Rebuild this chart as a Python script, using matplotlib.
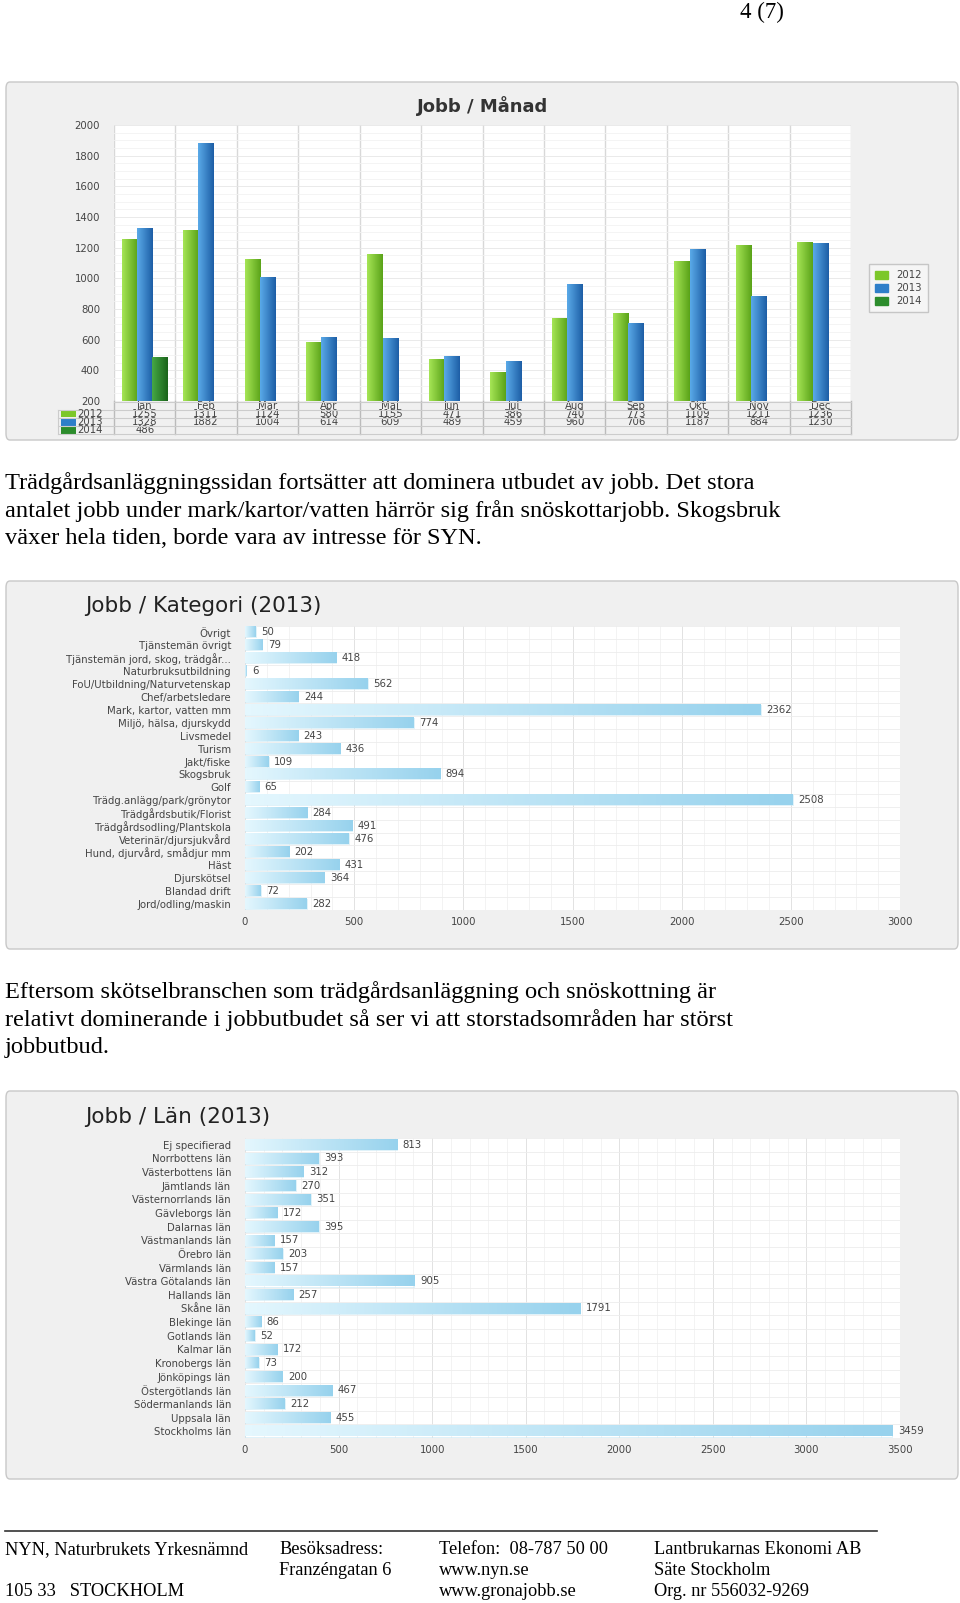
import numpy as np
import matplotlib
matplotlib.use("Agg")
import matplotlib.pyplot as plt
from matplotlib.patches import FancyBboxPatch, Rectangle, Patch
from matplotlib.colors import LinearSegmentedColormap
from matplotlib.lines import Line2D
from matplotlib import transforms

# ---- data ----
months = ["Jan", "Feb", "Mar", "Apr", "Maj", "Jun", "Jul", "Aug", "Sep", "Okt", "Nov", "Dec"]
jobs_2012 = [1255, 1311, 1124, 580, 1155, 471, 386, 740, 773, 1109, 1211, 1236]
jobs_2013 = [1328, 1882, 1004, 614, 609, 489, 459, 960, 706, 1187, 884, 1230]
jobs_2014 = [486]

kat_labels = ["Övrigt", "Tjänstemän övrigt", "Tjänstemän jord, skog, trädgår...",
              "Naturbruksutbildning", "FoU/Utbildning/Naturvetenskap", "Chef/arbetsledare",
              "Mark, kartor, vatten mm", "Miljö, hälsa, djurskydd", "Livsmedel", "Turism",
              "Jakt/fiske", "Skogsbruk", "Golf", "Trädg.anlägg/park/grönytor",
              "Trädgårdsbutik/Florist", "Trädgårdsodling/Plantskola", "Veterinär/djursjukvård",
              "Hund, djurvård, smådjur mm", "Häst", "Djurskötsel", "Blandad drift",
              "Jord/odling/maskin"]
kat_values = [50, 79, 418, 6, 562, 244, 2362, 774, 243, 436, 109, 894, 65, 2508,
              284, 491, 476, 202, 431, 364, 72, 282]

lan_labels = ["Ej specifierad", "Norrbottens län", "Västerbottens län", "Jämtlands län",
              "Västernorrlands län", "Gävleborgs län", "Dalarnas län", "Västmanlands län",
              "Örebro län", "Värmlands län", "Västra Götalands län", "Hallands län",
              "Skåne län", "Blekinge län", "Gotlands län", "Kalmar län", "Kronobergs län",
              "Jönköpings län", "Östergötlands län", "Södermanlands län", "Uppsala län",
              "Stockholms län"]
lan_values = [813, 393, 312, 270, 351, 172, 395, 157, 203, 157, 905, 257, 1791, 86,
              52, 172, 73, 200, 467, 212, 455, 3459]

text1 = ["Trädgårdsanläggningssidan fortsätter att dominera utbudet av jobb. Det stora",
         "antalet jobb under mark/kartor/vatten härrör sig från snöskottarjobb. Skogsbruk",
         "växer hela tiden, borde vara av intresse för SYN."]
text2 = ["Eftersom skötselbranschen som trädgårdsanläggning och snöskottning är",
         "relativt dominerande i jobbutbudet så ser vi att storstadsområden har störst",
         "jobbutbud."]

W, H = 960, 1603
plt.rcParams['font.family'] = ['DejaVu Sans']
fig = plt.figure(figsize=(W / 100, H / 100), dpi=100)
FS = 7.3  # small chart text


def fx(px):
    return px / W


def fy(py):
    return 1 - py / H


def panel(y0, y1):
    p = FancyBboxPatch((fx(6), fy(y1)), fx(952), (y1 - y0) / H,
                       boxstyle="round,pad=0,rounding_size=0.004",
                       transform=fig.transFigure, fc="#f0f0f0", ec="#c8c8c8", lw=1,
                       zorder=-10)
    fig.patches.append(p)


def grad_bars(ax, bars, c0, c1):
    cmap = LinearSegmentedColormap.from_list("g", [c0, c1])
    g = np.linspace(0, 1, 64).reshape(1, -1)
    for b in bars:
        x, y, w, h = b.get_x(), b.get_y(), b.get_width(), b.get_height()
        if w == 0 or h == 0:
            continue
        ax.imshow(g, cmap=cmap, extent=(x, x + w, y, y + h), aspect='auto',
                  zorder=2, interpolation='bilinear')
        b.set_facecolor('none')


serif = ['Liberation Serif', 'DejaVu Serif']
fig.text(fx(762), fy(12), "4 (7)", family=serif, fontsize=16.5, ha='center', va='center')

# ---- chart 1: Jobb / Manad ----
panel(82, 440)
ax1 = fig.add_axes([fx(114), fy(401), fx(737), 276 / H])
x = np.arange(len(months))
bw = 0.25
b12 = ax1.bar(x - bw, jobs_2012, bw, color='#7cc72a', zorder=2)
b13 = ax1.bar(x, jobs_2013, bw, color='#2e7fc9', zorder=2)
b14 = ax1.bar(x[:len(jobs_2014)] + bw, jobs_2014, bw, color='#2c8c2c', zorder=2)
grad_bars(ax1, b12, '#a6e556', '#5aa318')
grad_bars(ax1, b13, '#5aaae8', '#1d5ea6')
grad_bars(ax1, b14, '#46a846', '#1a641a')
ax1.set_xlim(-0.5, len(months) - 0.5)
ax1.set_ylim(200, 2000)
ax1.set_yticks(np.arange(200, 2001, 200))
ax1.set_yticks(np.arange(200, 2001, 50), minor=True)
ax1.set_xticks([])
ax1.set_xticks(np.arange(-0.5, len(months), 1), minor=True)
ax1.tick_params(axis='both', which='both', length=0, labelsize=FS, labelcolor='#444', pad=10)
ax1.tick_params(axis='x', which='minor', labelbottom=False)
ax1.grid(True, axis='y', which='minor', color='#f2f2f2', lw=0.6, zorder=0)
ax1.grid(True, axis='y', which='major', color='#e6e6e6', lw=0.6, zorder=0)
ax1.grid(True, axis='x', which='minor', color='#d8d8d8', lw=1.0, zorder=0)
for s in ax1.spines.values():
    s.set_visible(False)
fig.text(ax1.get_position().x0 + ax1.get_position().width / 2, fy(106), "Jobb / Månad",
         fontsize=13, fontweight='bold', color='#333', ha='center', va='center')

# data table under chart 1
bt = transforms.blended_transform_factory(ax1.transData, fig.transFigure)
row_y = [406, 414, 422, 430]
series = [("2012", jobs_2012, '#7cc72a'), ("2013", jobs_2013, '#2e7fc9'), ("2014", jobs_2014, '#2c8c2c')]
for i, m in enumerate(months):
    ax1.text(i, fy(row_y[0]), m, transform=bt, ha='center', va='center', fontsize=FS, color='#444')
    for r, (_, vals, _) in enumerate(series):
        if i < len(vals):
            ax1.text(i, fy(row_y[r + 1]), str(vals[i]), transform=bt, ha='center', va='center',
                     fontsize=FS, color='#444')
for r, (name, _, col) in enumerate(series):
    fig.patches.append(Rectangle((fx(61), fy(row_y[r + 1] + 3.5)), fx(15), 7 / H,
                                 transform=fig.transFigure, fc=col, ec='none'))
    fig.text(fx(77), fy(row_y[r + 1]), name, fontsize=FS, color='#444', va='center')
for yy in [402, 410, 418, 426, 434]:
    x0 = 114 if yy == 402 else 58
    fig.add_artist(Line2D([fx(x0), fx(851)], [fy(yy), fy(yy)], color='#cccccc', lw=0.8))
for i in range(len(months) + 1):
    ax1.add_line(Line2D([i - 0.5, i - 0.5], [fy(401), fy(434)], transform=bt,
                        color='#bbbbbb', lw=1.0, clip_on=False))
fig.add_artist(Line2D([fx(58), fx(58)], [fy(410), fy(434)], color='#cccccc', lw=0.8))

leg = fig.legend([Patch(color=c) for _, _, c in series], [s[0] for s in series],
                 loc='upper left', bbox_to_anchor=(fx(864), fy(259)), fontsize=FS,
                 frameon=True, fancybox=False, edgecolor='#bbbbbb', handlelength=1.3,
                 handleheight=0.8, labelspacing=0.3, borderpad=0.6)
leg.get_frame().set_facecolor('#f7f7f7')
for t in leg.get_texts():
    t.set_color('#444')


# ---- horizontal bar charts ----
def hbar_chart(rect, labels, values, xmax, title, title_y):
    ax = fig.add_axes(rect)
    y = np.arange(len(labels))
    bars = ax.barh(y, values, height=0.78, color='#bfe6f6', edgecolor='#c8e8f5', lw=0.4, zorder=2)
    grad_bars(ax, bars, '#e4f7fe', '#97d2ed')
    ax.set_xlim(0, xmax)
    ax.set_ylim(len(labels) - 0.5, -0.5)
    ax.set_yticks(y)
    ax.set_yticklabels(labels)
    ax.set_yticks(np.arange(-0.5, len(labels), 1), minor=True)
    ax.set_xticks(np.arange(0, xmax + 1, 500))
    ax.set_xticks(np.arange(0, xmax + 1, 100), minor=True)
    ax.tick_params(axis='both', which='both', length=0, labelsize=FS, labelcolor='#444')
    ax.tick_params(axis='y', pad=10)
    ax.tick_params(axis='x', pad=5)
    ax.grid(True, axis='x', which='minor', color='#f1f1f1', lw=0.6, zorder=0)
    ax.grid(True, axis='x', which='major', color='#e2e2e2', lw=0.7, zorder=0)
    ax.grid(True, axis='y', which='minor', color='#ececec', lw=0.6, zorder=0)
    for s in ax.spines.values():
        s.set_visible(False)
    for yi, v in zip(y, values):
        ax.annotate(str(v), (v, yi), xytext=(4, 0), textcoords='offset points',
                    ha='left', va='center', fontsize=FS, color='#444', zorder=3)
    fig.text(fx(85), fy(title_y), title, fontsize=15.5, color='#222', va='center')
    return ax


panel(581, 949)
hbar_chart([fx(245), fy(910), fx(655), 284 / H], kat_labels, kat_values, 3000,
           "Jobb / Kategori (2013)", 606)

panel(1091, 1479)
hbar_chart([fx(245), fy(1438), fx(655), 300 / H], lan_labels, lan_values, 3500,
           "Jobb / Län (2013)", 1117)

# ---- body text ----
for i, line in enumerate(text1):
    fig.text(fx(5), fy(483 + i * 28), line, family=serif, fontsize=17.6, va='center')
for i, line in enumerate(text2):
    fig.text(fx(5), fy(992 + i * 28), line, family=serif, fontsize=17.6, va='center')

# ---- footer ----
fig.add_artist(Line2D([fx(5), fx(877)], [fy(1531), fy(1531)], color='#333', lw=1.2))
footer = [(5, ["NYN, Naturbrukets Yrkesnämnd", "", "105 33   STOCKHOLM"]),
          (279, ["Besöksadress:", "Franzéngatan 6", ""]),
          (439, ["Telefon:  08-787 50 00", "www.nyn.se", "www.gronajobb.se"]),
          (654, ["Lantbrukarnas Ekonomi AB", "Säte Stockholm", "Org. nr 556032-9269"])]
for xp, lines in footer:
    for j, t in enumerate(lines):
        if t:
            fig.text(fx(xp), fy(1550 + j * 20.5), t, family=serif, fontsize=13.2, va='center')

fig.savefig("out.png", dpi=100)
